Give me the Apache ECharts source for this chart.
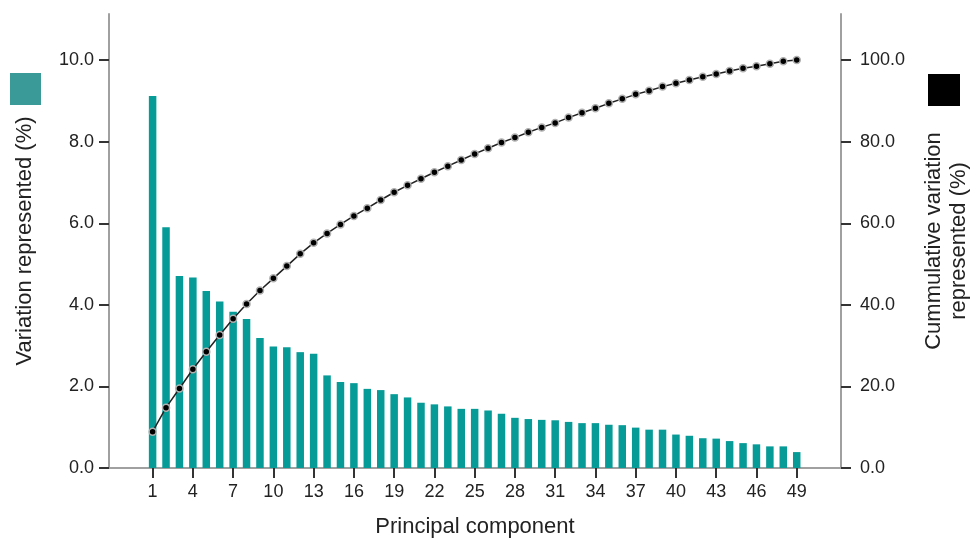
<!DOCTYPE html>
<html>
<head>
<meta charset="utf-8">
<script src="https://cdn.jsdelivr.net/npm/echarts@6/dist/echarts.min.js"></script>
<style>
  html, body { margin: 0; padding: 0; background: #fff; }
  #chart { width: 978px; height: 542px; }
</style>
</head>
<body>
<div id="chart"></div>
<script>
// principal components 1..49
const components = [1, 2, 3, 4, 5, 6, 7, 8, 9, 10, 11, 12, 13, 14, 15, 16, 17, 18, 19, 20,
  21, 22, 23, 24, 25, 26, 27, 28, 29, 30, 31, 32, 33, 34, 35, 36, 37, 38, 39, 40,
  41, 42, 43, 44, 45, 46, 47, 48, 49]
// variation represented (%) - bars, left axis
const variation = [9.12, 5.90, 4.71, 4.67, 4.34, 4.08, 3.83, 3.65, 3.19, 2.98,
  2.96, 2.84, 2.80, 2.27, 2.11, 2.08, 1.94, 1.91, 1.81, 1.73,
  1.60, 1.56, 1.51, 1.45, 1.45, 1.41, 1.33, 1.23, 1.20, 1.18,
  1.17, 1.13, 1.10, 1.10, 1.06, 1.05, 0.99, 0.94, 0.94, 0.82,
  0.79, 0.73, 0.72, 0.66, 0.61, 0.58, 0.53, 0.53, 0.39]
// cumulative variation represented (%) - line, right axis
const cumulative = [8.9, 14.8, 19.5, 24.2, 28.5, 32.6, 36.6, 40.2, 43.5, 46.5,
  49.5, 52.5, 55.2, 57.5, 59.7, 61.8, 63.7, 65.7, 67.6, 69.3,
  70.9, 72.5, 74.0, 75.5, 77.0, 78.4, 79.8, 81.0, 82.3, 83.5,
  84.6, 85.9, 87.1, 88.2, 89.4, 90.5, 91.6, 92.5, 93.5, 94.3,
  95.1, 95.9, 96.6, 97.3, 98.0, 98.5, 99.1, 99.7, 100.0]
// tick labels
const xTicks = [1, 4, 7, 10, 13, 16, 19, 22, 25, 28, 31, 34, 37, 40, 43, 46, 49]
const leftTicks = [0, 2, 4, 6, 8, 10]
const rightTicks = [0, 20, 40, 60, 80, 100]

const chart = echarts.init(document.getElementById('chart'))
const font = 'Liberation Sans, Arial, sans-serif'
const axisGray = '#a0a0a0'

chart.setOption({
  animation: false,
  textStyle: { fontFamily: font },
  grid: { left: 109, right: 137, top: 14, bottom: 74, outerBoundsMode: 'none', containLabel: false },
  xAxis: {
    type: 'value',
    min: -2.25,
    max: 52.3,
    name: 'Principal component',
    nameLocation: 'middle',
    nameGap: 48,
    nameTextStyle: { fontSize: 22, color: '#222', fontFamily: font },
    axisLine: { onZero: false, lineStyle: { color: axisGray, width: 2 } },
    axisTick: { customValues: xTicks, length: 10, lineStyle: { color: '#333', width: 2 } },
    axisLabel: { customValues: xTicks, fontSize: 18, color: '#222', margin: 15 },
    splitLine: { show: false }
  },
  yAxis: [
    {
      type: 'value',
      min: 0,
      max: 11.13,
      name: 'Variation represented (%)',
      nameLocation: 'middle',
      nameGap: 73,
      nameTextStyle: { fontSize: 22, color: '#222', fontFamily: font },
      axisLine: { show: true, onZero: false, lineStyle: { color: axisGray, width: 2 } },
      axisTick: { show: true, customValues: leftTicks, length: 10, lineStyle: { color: '#333', width: 2 } },
      axisLabel: {
        customValues: leftTicks, fontSize: 18, color: '#222', margin: 15,
        formatter: v => v.toFixed(1)
      },
      splitLine: { show: false }
    },
    {
      type: 'value',
      min: 0,
      max: 111.3,
      position: 'right',
      name: 'Cummulative variation\nrepresented (%)',
      nameLocation: 'middle',
      nameRotate: 90,
      nameGap: 80,
      nameTextStyle: { fontSize: 22, color: '#222', fontFamily: font, lineHeight: 25 },
      axisLine: { show: true, onZero: false, lineStyle: { color: axisGray, width: 2 } },
      axisTick: { show: true, customValues: rightTicks, length: 10, lineStyle: { color: '#333', width: 2 } },
      axisLabel: {
        customValues: rightTicks, fontSize: 18, color: '#222', margin: 19,
        formatter: v => v.toFixed(1)
      },
      splitLine: { show: false }
    }
  ],
  graphic: [
    { type: 'rect', left: 10, top: 73, shape: { width: 31, height: 32 }, style: { fill: '#3a9a98' } },
    { type: 'rect', left: 928, top: 74, shape: { width: 32, height: 32 }, style: { fill: '#000' } }
  ],
  series: [
    {
      name: 'Variation represented (%)',
      type: 'bar',
      yAxisIndex: 0,
      barWidth: 7.5,
      itemStyle: { color: '#069b97' },
      data: components.map((c, i) => [c, variation[i]])
    },
    {
      name: 'Cummulative variation represented (%)',
      type: 'line',
      yAxisIndex: 1,
      symbol: 'circle',
      symbolSize: 7,
      lineStyle: { color: '#222', width: 1.5 },
      itemStyle: { color: '#000', borderColor: '#b0b0b0', borderWidth: 1.5 },
      data: components.map((c, i) => [c, cumulative[i]])
    }
  ]
})
</script>
</body>
</html>
